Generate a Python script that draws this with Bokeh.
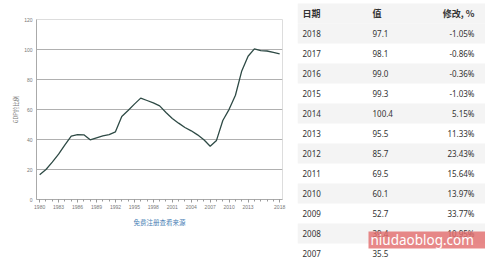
from bokeh.plotting import figure
from bokeh.layouts import row, column
from bokeh.models import Range1d, FixedTicker, ColumnDataSource
from bokeh.core.properties import value
from bokeh.embed import file_html
from bokeh.resources import INLINE

years = list(range(1980, 2019))
gdp_ratio = [16.5, 20.0, 24.9, 30.2, 36.4, 42.2, 43.3, 43.1, 39.8, 41.1,
             42.4, 43.3, 45.1, 55.3, 59.3, 63.6, 67.6, 66.0, 64.4, 62.4,
             58.0, 54.0, 50.9, 48.0, 45.8, 43.1, 39.8, 35.5, 39.4, 52.7,
             60.1, 69.5, 85.7, 95.5, 100.4, 99.3, 99.0, 98.1, 97.1]
x_tick_years = [1980, 1983, 1986, 1989, 1992, 1995, 1998, 2001, 2004, 2007, 2010, 2013, 2018]
y_ticks = [0, 20, 40, 60, 80, 100, 120]

table_dates = ["2018", "2017", "2016", "2015", "2014", "2013", "2012", "2011", "2010", "2009", "2008", "2007"]
table_values = ["97.1", "98.1", "99.0", "99.3", "100.4", "95.5", "85.7", "69.5", "60.1", "52.7", "39.4", "35.5"]
table_changes = ["-1.05%", "-0.86%", "-0.36%", "-1.03%", "5.15%", "11.33%", "23.43%", "15.64%", "13.97%", "33.77%", "10.95%", ""]
headers = ["日期", "值", "修改, %"]

# ---------------- chart ----------------
p = figure(width=297, height=259, output_backend="svg", toolbar_location=None,
           x_range=Range1d(1979.5, 2018.45), y_range=Range1d(0, 120),
           min_border_left=36, min_border_right=15, min_border_top=19, min_border_bottom=60,
           title="免费注册查看来源", title_location="below")
p.frame_width = 246
p.frame_height = 180
p.outline_line_color = "#dddddd"
p.background_fill_color = "white"
p.border_fill_color = "white"

p.title.text_font = "Noto Sans CJK SC"
p.title.text_font_size = "6.5px"
p.title.text_font_style = "normal"
p.title.text_color = "#4a7fb5"
p.title.align = "center"
p.title.offset = -13
p.title.standoff = 6

p.line(years, gdp_ratio, line_color="#2e4a45", line_width=1.3)

p.xgrid.grid_line_color = None
p.ygrid.grid_line_color = "#b0b0b0"
p.ygrid.ticker = FixedTicker(ticks=y_ticks)

p.xaxis.ticker = FixedTicker(ticks=x_tick_years, minor_ticks=years)
p.xaxis.axis_line_color = "#aaaaaa"
p.xaxis.major_tick_line_color = "#999999"
p.xaxis.minor_tick_line_color = "#999999"
p.xaxis.major_tick_out = 3
p.xaxis.major_tick_in = 0
p.xaxis.minor_tick_out = 2
p.xaxis.minor_tick_in = 0
p.xaxis.major_label_text_font = "Liberation Sans"
p.xaxis.major_label_text_font_size = "5px"
p.xaxis.major_label_text_color = "#777777"
p.xaxis.major_label_standoff = 2

p.yaxis.ticker = FixedTicker(ticks=y_ticks)
p.yaxis.axis_line_color = "#aaaaaa"
p.yaxis.major_tick_out = 0
p.yaxis.major_tick_in = 0
p.yaxis.minor_tick_line_color = None
p.yaxis.major_label_text_font = "Liberation Sans"
p.yaxis.major_label_text_font_size = "5px"
p.yaxis.major_label_text_color = "#777777"
p.yaxis.major_label_standoff = 4
p.yaxis.axis_label = "GDP的比例"
p.yaxis.axis_label_text_font = "Noto Sans CJK SC"
p.yaxis.axis_label_text_font_size = "5.5px"
p.yaxis.axis_label_text_font_style = "normal"
p.yaxis.axis_label_text_color = "#777777"
p.yaxis.axis_label_standoff = 1

# ---------------- table ----------------
t = figure(width=188, height=259, output_backend="svg", toolbar_location=None,
           x_range=Range1d(297, 485), y_range=Range1d(259, 0),
           min_border=0)
t.frame_width = 188
t.frame_height = 259
t.axis.visible = False
t.grid.visible = False
t.outline_line_color = None
t.background_fill_color = "white"
t.border_fill_color = "white"

row_top = [23 + 20 * i for i in range(len(table_dates))]
gray_tops = [row_top[i] for i in range(len(table_dates)) if i % 2 == 0]
t.quad(left=297, right=485, top=gray_tops, bottom=[v + 20 for v in gray_tops],
       fill_color="#f4f4f4", line_color=None)
t.quad(left=297, right=485, top=[3], bottom=[23], fill_color="#f4f4f4", line_color=None)

t.text(x=[302, 372], y=[13, 13], text=headers[:2], text_font=value("Noto Sans CJK SC"),
       text_font_size="9px", text_font_style="bold", text_color="#333333",
       text_baseline="middle", text_align="left")
t.text(x=[474], y=[13], text=headers[2:], text_font=value("Noto Sans CJK SC"),
       text_font_size="9px", text_font_style="bold", text_color="#333333",
       text_baseline="middle", text_align="right")

src = ColumnDataSource(dict(y=[v + 10 for v in row_top], d=table_dates, v=table_values, c=table_changes))
t.text(x=302, y="y", text="d", source=src, text_font=value("Noto Sans"), text_font_size="8px",
       text_color="#333333", text_baseline="middle", text_align="left")
t.text(x=372, y="y", text="v", source=src, text_font=value("Noto Sans"), text_font_size="8px",
       text_color="#333333", text_baseline="middle", text_align="left")
t.text(x=474, y="y", text="c", source=src, text_font=value("Noto Sans"), text_font_size="8px",
       text_color="#333333", text_baseline="middle", text_align="right")

# watermark
t.quad(left=368, right=485, top=231, bottom=248, fill_color="#e26b6b", fill_alpha=0.8, line_color=None)
t.text(x=[370], y=[239.5], text=["niudaoblog.com"], text_font=value("Noto Sans"),
       text_font_size="13.5px", text_color="white", text_baseline="middle", text_align="left")

layout = row(column(p), column(t), spacing=0)
open("out.html", "w").write(file_html(layout, INLINE))
